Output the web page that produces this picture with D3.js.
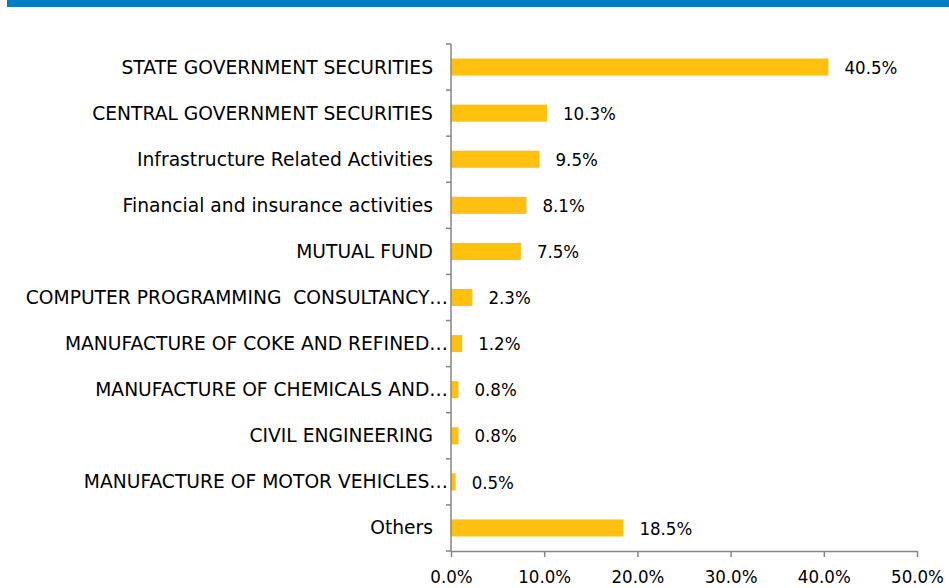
<!DOCTYPE html>
<html>
<head>
<meta charset="utf-8">
<script src="https://cdn.jsdelivr.net/npm/d3@7"></script>
<style>
  body { margin: 0; background: #fff; }
  svg text { font-family: "DejaVu Sans", sans-serif; fill: #000; }
  svg text.num { font-family: "DejaVu Sans Condensed", "DejaVu Sans", sans-serif; font-stretch: condensed; }
</style>
</head>
<body>
<div id="chart"></div>
<script>
// Sector names as printed on the chart (long ones are cut off in the source too)
const categories = [
  "STATE GOVERNMENT SECURITIES",
  "CENTRAL GOVERNMENT SECURITIES",
  "Infrastructure Related Activities",
  "Financial and insurance activities",
  "MUTUAL FUND",
  "COMPUTER PROGRAMMING  CONSULTANCY…",
  "MANUFACTURE OF COKE AND REFINED…",
  "MANUFACTURE OF CHEMICALS AND…",
  "CIVIL ENGINEERING",
  "MANUFACTURE OF MOTOR VEHICLES…",
  "Others"
]
const shares = [40.5, 10.3, 9.5, 8.1, 7.5, 2.3, 1.2, 0.8, 0.8, 0.5, 18.5]
const xTicks = [0, 10, 20, 30, 40, 50]

const width = 949, height = 588
const plotLeft = 451, plotRight = 917, plotTop = 44, plotBottom = 551

let svg = d3.select("#chart")
  .append("svg")
  .attr("width", width)
  .attr("height", height)

// blue header strip, title text sits above the crop
svg.append("rect")
  .attr("x", 7)
  .attr("y", 0)
  .attr("width", width - 7)
  .attr("height", 7)
  .attr("fill", "#007dc5")

let xScale = d3.scaleLinear()
  .domain([0, 50])
  .range([plotLeft, plotRight])

let yScale = d3.scaleBand()
  .domain(categories)
  .range([plotTop, plotBottom])
  .paddingInner(0.63)
  .paddingOuter(0.315)

// bars
svg.append("g")
  .selectAll("rect")
  .data(shares)
  .join("rect")
  .attr("x", xScale(0))
  .attr("y", (d, i) => yScale(categories[i]))
  .attr("width", d => xScale(d) - xScale(0))
  .attr("height", yScale.bandwidth())
  .attr("fill", "#ffc010")

// value labels
svg.append("g")
  .selectAll("text")
  .data(shares)
  .join("text")
  .attr("class", "num")
  .attr("x", d => xScale(d) + 16)
  .attr("y", (d, i) => yScale(categories[i]) + yScale.bandwidth() / 2)
  .attr("dy", "0.36em")
  .style("font-size", "18.5px")
  .text(d => d.toFixed(1) + "%")

// category labels, the cut-off ones run a bit closer to the axis
svg.append("g")
  .selectAll("text")
  .data(categories)
  .join("text")
  .attr("x", d => d.endsWith("…") ? plotLeft - 3 : plotLeft - 18)
  .attr("y", d => yScale(d) + yScale.bandwidth() / 2)
  .attr("dy", "0.35em")
  .attr("text-anchor", "end")
  .style("font-size", "18.7px")
  .style("white-space", "pre")
  .text(d => d)

// y axis line with ticks between the categories
let step = (plotBottom - plotTop) / categories.length
let boundaries = d3.range(categories.length + 1).map(i => plotTop + i * step)
let yAxisG = svg.append("g").attr("stroke", "#868686").attr("stroke-width", 1.5)
yAxisG.append("line")
  .attr("x1", plotLeft).attr("x2", plotLeft)
  .attr("y1", plotTop).attr("y2", plotBottom)
yAxisG.selectAll("line.tick")
  .data(boundaries)
  .join("line")
  .attr("class", "tick")
  .attr("x1", plotLeft - 5).attr("x2", plotLeft)
  .attr("y1", d => d).attr("y2", d => d)

// x axis
let xAxis = d3.axisBottom(xScale)
  .tickValues(xTicks)
  .tickSize(6)
  .tickSizeOuter(0)
  .tickPadding(13)
  .tickFormat(d => d.toFixed(1) + "%")

let xAxisG = svg.append("g")
  .attr("transform", "translate(0," + plotBottom + ")")
  .call(xAxis)
xAxisG.attr("font-family", null).attr("font-size", null)
xAxisG.select(".domain").attr("stroke", "#868686").attr("stroke-width", 1.5)
xAxisG.selectAll(".tick line").attr("stroke", "#868686").attr("stroke-width", 1.5)
xAxisG.selectAll(".tick text")
  .attr("class", "num")
  .style("font-size", "18.5px")
  .attr("fill", "#000")
</script>
</body>
</html>
